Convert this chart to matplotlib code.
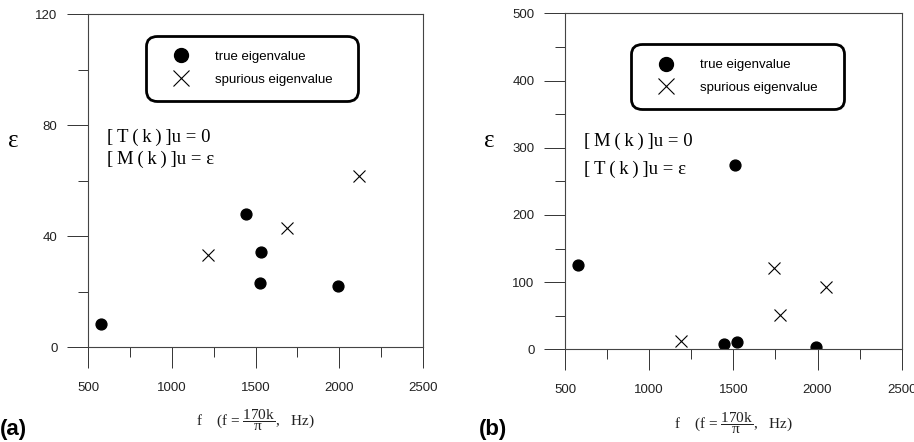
import matplotlib
matplotlib.use("Agg")
import matplotlib.pyplot as plt
from matplotlib.lines import Line2D
from matplotlib.ticker import MultipleLocator

plt.rcParams['font.family'] = ['Liberation Sans', 'DejaVu Sans']
plt.rcParams['mathtext.fontset'] = 'custom'
plt.rcParams['mathtext.rm'] = 'Liberation Serif'
plt.rcParams['mathtext.it'] = 'Liberation Serif'

# panel (a): [T(k)]u = 0, [M(k)]u = eps
a_true_f = [575, 1443, 1535, 1527, 1995]
a_true_e = [8.3, 47.9, 34.1, 23.0, 21.9]
a_spur_f = [1218, 1690, 2116]
a_spur_e = [33.2, 42.8, 61.7]

# panel (b): [M(k)]u = 0, [T(k)]u = eps
b_true_f = [579, 1510, 1447, 1520, 1991]
b_true_e = [125, 275, 8.4, 10.4, 4]
b_spur_f = [1189, 1744, 1777, 2049]
b_spur_e = [12.9, 121.5, 50.6, 92.3]

xlabel = r'f    (f = $\dfrac{170\mathrm{k}}{\pi}$,   Hz)'
serif = ['Liberation Serif', 'DejaVu Serif']
ts = '\u2009'

fig = plt.figure(figsize=(9.14, 4.42), dpi=100)
ax1 = fig.add_axes([0.0963, 0.2149, 0.3665, 0.7534])
ax2 = fig.add_axes([0.6182, 0.2097, 0.3683, 0.7600])

def eq(op, rhs):
    return '[' + ts + op + ts + '(' + ts + 'k' + ts + ')' + ts + ']u = ' + rhs

panels = [
    (ax1, a_true_f, a_true_e, a_spur_f, a_spur_e, 120, 40, 20,
     [eq('T', '0'), eq('M', 'ε')], (0.057, 0.631, 0.565),
     (0.173, 0.739, 0.633), '(a)', 0.0),
    (ax2, b_true_f, b_true_e, b_spur_f, b_spur_e, 500, 100, 50,
     [eq('M', '0'), eq('T', 'ε')], (0.056, 0.62, 0.536),
     (0.196, 0.715, 0.633), '(b)', 0.524),
]

for ax, tf, te, sf, se, ymax, ymaj, ymin, eqs, eqpos, legpos, tag, tagx in panels:
    ax.plot(tf, te, 'o', color='black', markersize=7.8, linestyle='none')
    ax.plot(sf, se, 'x', color='black', markersize=8, markeredgewidth=0.8, linestyle='none')
    ax.set_xlim(500, 2500)
    ax.set_ylim(0, ymax)
    ax.xaxis.set_major_locator(MultipleLocator(500))
    ax.xaxis.set_minor_locator(MultipleLocator(250))
    ax.yaxis.set_major_locator(MultipleLocator(ymaj))
    ax.yaxis.set_minor_locator(MultipleLocator(ymin))
    ax.tick_params(which='major', direction='out', length=15, width=0.7,
                   color='#333333', labelsize=9.5, labelcolor='#222222')
    ax.tick_params(which='minor', direction='out', length=7.2, width=0.7, color='#333333')
    ax.tick_params(axis='x', pad=10)
    ax.tick_params(axis='y', pad=7)
    for sp in ax.spines.values():
        sp.set_color('#444444')
        sp.set_linewidth(0.8)

    ax.set_ylabel('ε', rotation=0, family=serif, fontsize=18)
    ax.yaxis.set_label_coords(-0.224, 0.586)
    ax.text(0.5, -0.22, xlabel, transform=ax.transAxes, ha='center', va='center',
            family=serif, fontsize=11, color='#222222')

    ax.text(eqpos[0], eqpos[1], eqs[0], transform=ax.transAxes, family=serif,
            fontsize=13.5, va='center', ha='left')
    ax.text(eqpos[0], eqpos[2], eqs[1], transform=ax.transAxes, family=serif,
            fontsize=13.5, va='center', ha='left')

    handles = [
        Line2D([], [], marker='o', color='black', linestyle='none', markersize=10),
        Line2D([], [], marker='x', color='black', linestyle='none', markersize=11,
               markeredgewidth=0.8),
    ]
    leg = ax.legend(handles, ['true eigenvalue', 'spurious eigenvalue'],
                    loc='lower left', bbox_to_anchor=(legpos[0], legpos[1], legpos[2], 0.2),
                    mode='expand', fontsize=9.5, handlelength=3.0, handletextpad=1.1,
                    borderpad=1.15, labelspacing=0.8, fancybox=True, framealpha=1,
                    borderaxespad=0)
    frame = leg.get_frame()
    frame.set_edgecolor('black')
    frame.set_linewidth(2)
    frame.set_boxstyle('round,pad=0,rounding_size=0.8')

    fig.text(tagx, 1 - 430 / 442, tag, fontsize=16, fontweight='bold', va='center', ha='left')

fig.savefig('out.png', dpi=100)
